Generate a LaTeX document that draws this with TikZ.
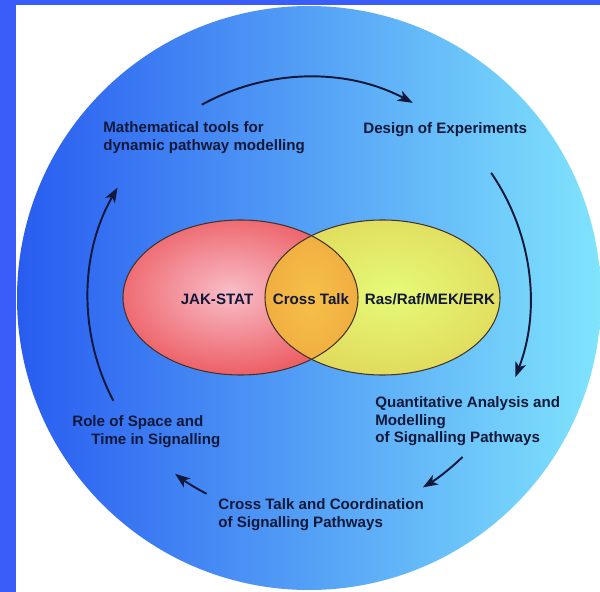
\documentclass[tikz,border=0pt]{standalone}
\usepackage{xcolor}
\usepackage{fontspec}
\setmainfont{Liberation Sans}
\usepackage{tikz}
\usetikzlibrary{arrows.meta}

\definecolor{frameblue}{RGB}{58,92,248}
\definecolor{diskleft}{RGB}{40,92,240}
\definecolor{diskmid}{RGB}{88,165,245}
\definecolor{diskright}{RGB}{128,228,252}
\definecolor{jakin}{RGB}{248,190,200}
\definecolor{jakout}{RGB}{232,52,58}
\definecolor{rasin}{RGB}{230,250,120}
\definecolor{rasout}{RGB}{222,205,80}
\definecolor{crossin}{RGB}{246,192,72}
\definecolor{crossout}{RGB}{236,160,60}
\definecolor{setline}{RGB}{70,50,40}
\definecolor{ink}{RGB}{18,24,58}

\begin{document}
\begin{tikzpicture}[
  lbl/.style={font=\bfseries\fontsize{8.6}{10.1}\selectfont, text=ink, inner sep=0pt, align=left},
  cyc/.style={line width=1.1pt, draw=ink, -{Stealth[length=0.3cm,width=0.22cm,inset=0.08cm]}}]
\useasboundingbox (0,0) rectangle (12,-11.84);
\fill[frameblue] (0,0) rectangle (12,-11.84);
\fill[white] (0.32,-0.1) rectangle (12,-11.84);
% the disc
\coordinate (c) at (6.18,-5.96);
\shade[left color=diskleft, middle color=diskmid, right color=diskright] (c) circle (5.84);
% the two sets
\begin{scope}
  \clip (4.81,-5.95) ellipse (2.35 and 1.55);
  \shade[inner color=jakin, outer color=jakout] (4.61,-5.85) ellipse (3.6 and 2.4);
\end{scope}
\begin{scope}
  \clip (7.65,-5.95) ellipse (2.35 and 1.55);
  \shade[inner color=rasin, outer color=rasout] (7.85,-5.85) ellipse (3.6 and 2.4);
\end{scope}
\begin{scope}
  \clip (4.81,-5.95) ellipse (2.35 and 1.55);
  \clip (7.65,-5.95) ellipse (2.35 and 1.55);
  \shade[inner color=crossin, outer color=crossout] (6.23,-5.95) ellipse (1.6 and 2.4);
\end{scope}
\draw[setline, line width=0.6pt] (4.81,-5.95) ellipse (2.35 and 1.55);
\draw[setline, line width=0.6pt] (7.65,-5.95) ellipse (2.35 and 1.55);
\node[lbl, anchor=base] (jak) at (4.34,-6.09) {JAK-STAT};
\node[lbl, anchor=base] (cross) at (6.22,-6.09) {Cross Talk};
\node[lbl, anchor=base] (ras) at (8.6,-6.09) {Ras/Raf/MEK/ERK};
% the cycle (base is the last line)
\node[lbl, anchor=base west] (tools) at (2.06,-3.01) {Mathematical tools for\\dynamic pathway modelling};
\node[lbl, anchor=base west] (design) at (7.26,-2.68) {Design of Experiments};
\node[lbl, anchor=base west] (quant) at (7.5,-8.86) {Quantitative Analysis and\\Modelling\\of Signalling Pathways};
\node[lbl, anchor=base west] (coord) at (4.36,-10.55) {Cross Talk and Coordination\\of Signalling Pathways};
\node[lbl, anchor=base west] (role) at (1.44,-8.89) {Role of Space and\\\hspace*{0.38cm}Time in Signalling};
\draw[cyc] (c) ++(119:4.42) arc[start angle=119, end angle=62, radius=4.42];
\draw[cyc] (c) ++(34.5:4.42) arc[start angle=34.5, end angle=-21, radius=4.42];
\draw[cyc] (c) ++(-46:4.42) arc[start angle=-46, end angle=-59, radius=4.42];
\draw[cyc] (c) ++(242.4:4.42) arc[start angle=242.4, end angle=232.7, radius=4.42];
\draw[cyc] (c) ++(207.7:4.42) arc[start angle=207.7, end angle=150, radius=4.42];
\end{tikzpicture}
\end{document}
